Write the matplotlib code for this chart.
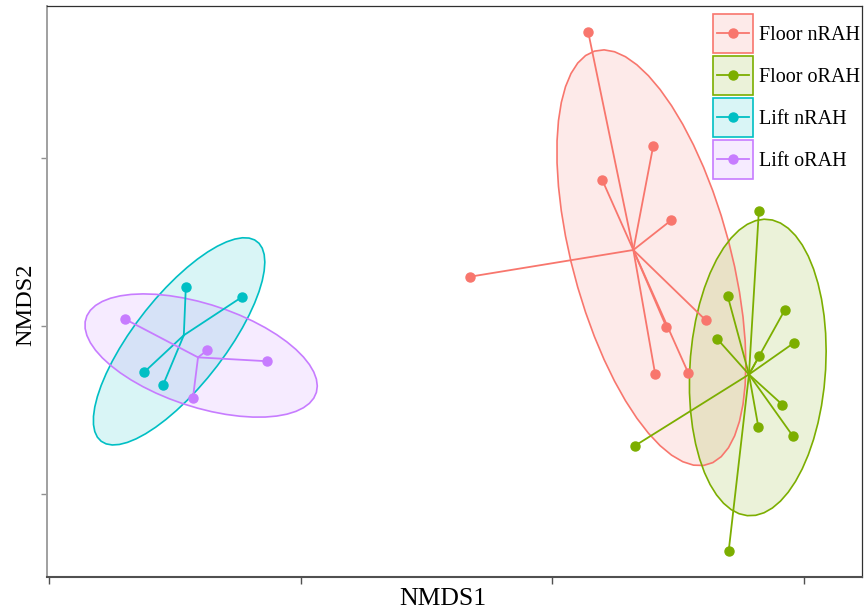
import numpy as np
import matplotlib
matplotlib.use("Agg")
import matplotlib.pyplot as plt
from matplotlib.patches import Patch, Polygon, Rectangle
from matplotlib.lines import Line2D

plt.rcParams["font.family"] = ["Liberation Serif", "DejaVu Serif"]

# NMDS scores
groups = ["Floor nRAH", "Floor oRAH", "Lift nRAH", "Lift oRAH"]
colors = ["#F8766D", "#7CAE00", "#00BFC4", "#C77CFF"]

floor_nrah_x = [0.072, 0.201, 0.100, 0.237, -0.164, 0.305, 0.227, 0.205, 0.271]
floor_nrah_y = [0.876, 0.537, 0.435, 0.316, 0.147, 0.018, -0.002, -0.144, -0.141]

floor_orah_x = [0.411, 0.349, 0.463, 0.328, 0.481, 0.412, 0.458, 0.410, 0.478, 0.164, 0.351]
floor_orah_y = [0.342, 0.090, 0.049, -0.038, -0.050, -0.089, -0.235, -0.301, -0.327, -0.358, -0.672]

lift_nrah_x = [-0.728, -0.616, -0.811, -0.773]
lift_nrah_y = [0.116, 0.087, -0.138, -0.175]

lift_orah_x = [-0.848, -0.686, -0.567, -0.714]
lift_orah_y = [0.020, -0.073, -0.105, -0.216]

xs = [floor_nrah_x, floor_orah_x, lift_nrah_x, lift_orah_x]
ys = [floor_nrah_y, floor_orah_y, lift_nrah_y, lift_orah_y]


def cov_trob(x, nu=5, maxit=25, tol=0.01):
    # port of MASS::cov.trob, as used by ggplot2 stat_ellipse(type="t")
    n, p = x.shape
    wt = np.ones(n)
    loc = x.mean(axis=0)
    w = np.ones(n)
    for _ in range(maxit):
        w0 = w
        X = x - loc
        _, d, vt = np.linalg.svd(np.sqrt(w / w.sum())[:, None] * X, full_matrices=False)
        wX = X @ vt.T @ np.diag(1 / d)
        Q = (wX ** 2).sum(axis=1)
        w = wt * (nu + p) / (nu + Q)
        loc = (w[:, None] * x).sum(axis=0) / w.sum()
        if np.all(np.abs(w - w0) < tol):
            break
    sX = np.sqrt(w)[:, None] * X
    return sX.T @ sX / wt.sum(), loc


def ellipse(x, y, level=0.8, segments=51):
    pts = np.column_stack([x, y])
    shape, center = cov_trob(pts)
    dfd = len(x) - 1
    # F(2, dfd) quantile has a closed form
    fq = dfd / 2 * ((1 - level) ** (-2 / dfd) - 1)
    radius = np.sqrt(2 * fq)
    chol = np.linalg.cholesky(shape).T
    ang = np.linspace(0, 2 * np.pi, segments + 1)
    circle = np.column_stack([np.cos(ang), np.sin(ang)])
    return center + radius * (circle @ chol)


class KeyHandler:
    # ggplot-like legend key: tinted box, short line and a dot
    def legend_artist(self, legend, orig_handle, fontsize, handlebox):
        c = orig_handle.get_edgecolor()
        x0, y0 = -handlebox.xdescent, -handlebox.ydescent
        w, h = handlebox.width, handlebox.height
        tr = handlebox.get_transform()
        box = Rectangle((x0, y0), w, h, facecolor=(*c[:3], 0.15), edgecolor=c,
                        lw=1.2, transform=tr)
        ln = Line2D([x0 + 0.1 * w, x0 + 0.9 * w], [y0 + h / 2] * 2, color=c,
                    lw=1.3, transform=tr)
        dot = Line2D([x0 + w / 2], [y0 + h / 2], color=c, marker="o", ms=6.5,
                     transform=tr)
        for a in (box, ln, dot):
            handlebox.add_artist(a)
        return box


fig = plt.figure(figsize=(8.65, 6.11), dpi=100)
ax = fig.add_axes([0.0543, 0.0556, 0.9422, 0.9346])

for x, y, c in zip(xs, ys, colors):
    ell = ellipse(x, y)
    ax.add_patch(Polygon(ell, closed=True, facecolor=c, alpha=0.15, edgecolor="none", zorder=1))
    ax.add_patch(Polygon(ell, closed=True, facecolor="none", edgecolor=c, lw=1.2, zorder=2))

for x, y, c in zip(xs, ys, colors):
    cx, cy = np.mean(x), np.mean(y)
    for px, py in zip(x, y):
        ax.plot([cx, px], [cy, py], color=c, lw=1.3, zorder=3)
    ax.plot(x, y, "o", color=c, ms=6.5, zorder=4)

ax.set_xlim(-1.004, 0.616)
ax.set_ylim(-0.749, 0.955)
ax.set_xticks([-1.0, -0.5, 0.0, 0.5])
ax.set_yticks([-0.5, 0.0, 0.5])
ax.set_xticklabels([])
ax.set_yticklabels([])
ax.tick_params(axis="x", length=5, width=1, color="#505050", pad=1)
ax.tick_params(axis="y", length=4, width=1, color="#909090", pad=1)
ax.spines["left"].set_color("#a0a0a0")
ax.spines["left"].set_linewidth(1.4)
ax.spines["bottom"].set_color("#505050")
ax.spines["bottom"].set_linewidth(1.5)
for side in ("top", "right"):
    ax.spines[side].set_color("#303030")
    ax.spines[side].set_linewidth(0.9)

ax.set_xlabel("NMDS1", fontsize=18.5)
ax.set_ylabel("NMDS2", fontsize=17.5)
ax.xaxis.set_label_coords(0.486, -0.019, transform=ax.transAxes)
ax.xaxis.label.set_va("top")
ax.yaxis.set_label_coords(-0.026, 0.476, transform=ax.transAxes)
ax.yaxis.label.set_va("center")

keys = [Patch(edgecolor=c) for c in colors]
ax.legend(keys, groups, handler_map={Patch: KeyHandler()},
          loc="upper left", bbox_to_anchor=(713 / 865, 1 - 14 / 611),
          bbox_transform=fig.transFigure, frameon=False, fontsize=14.5,
          handlelength=2.0, handleheight=2.6, labelspacing=0.15,
          handletextpad=0.3, borderpad=0, borderaxespad=0)

fig.savefig("out.png", dpi=100)
